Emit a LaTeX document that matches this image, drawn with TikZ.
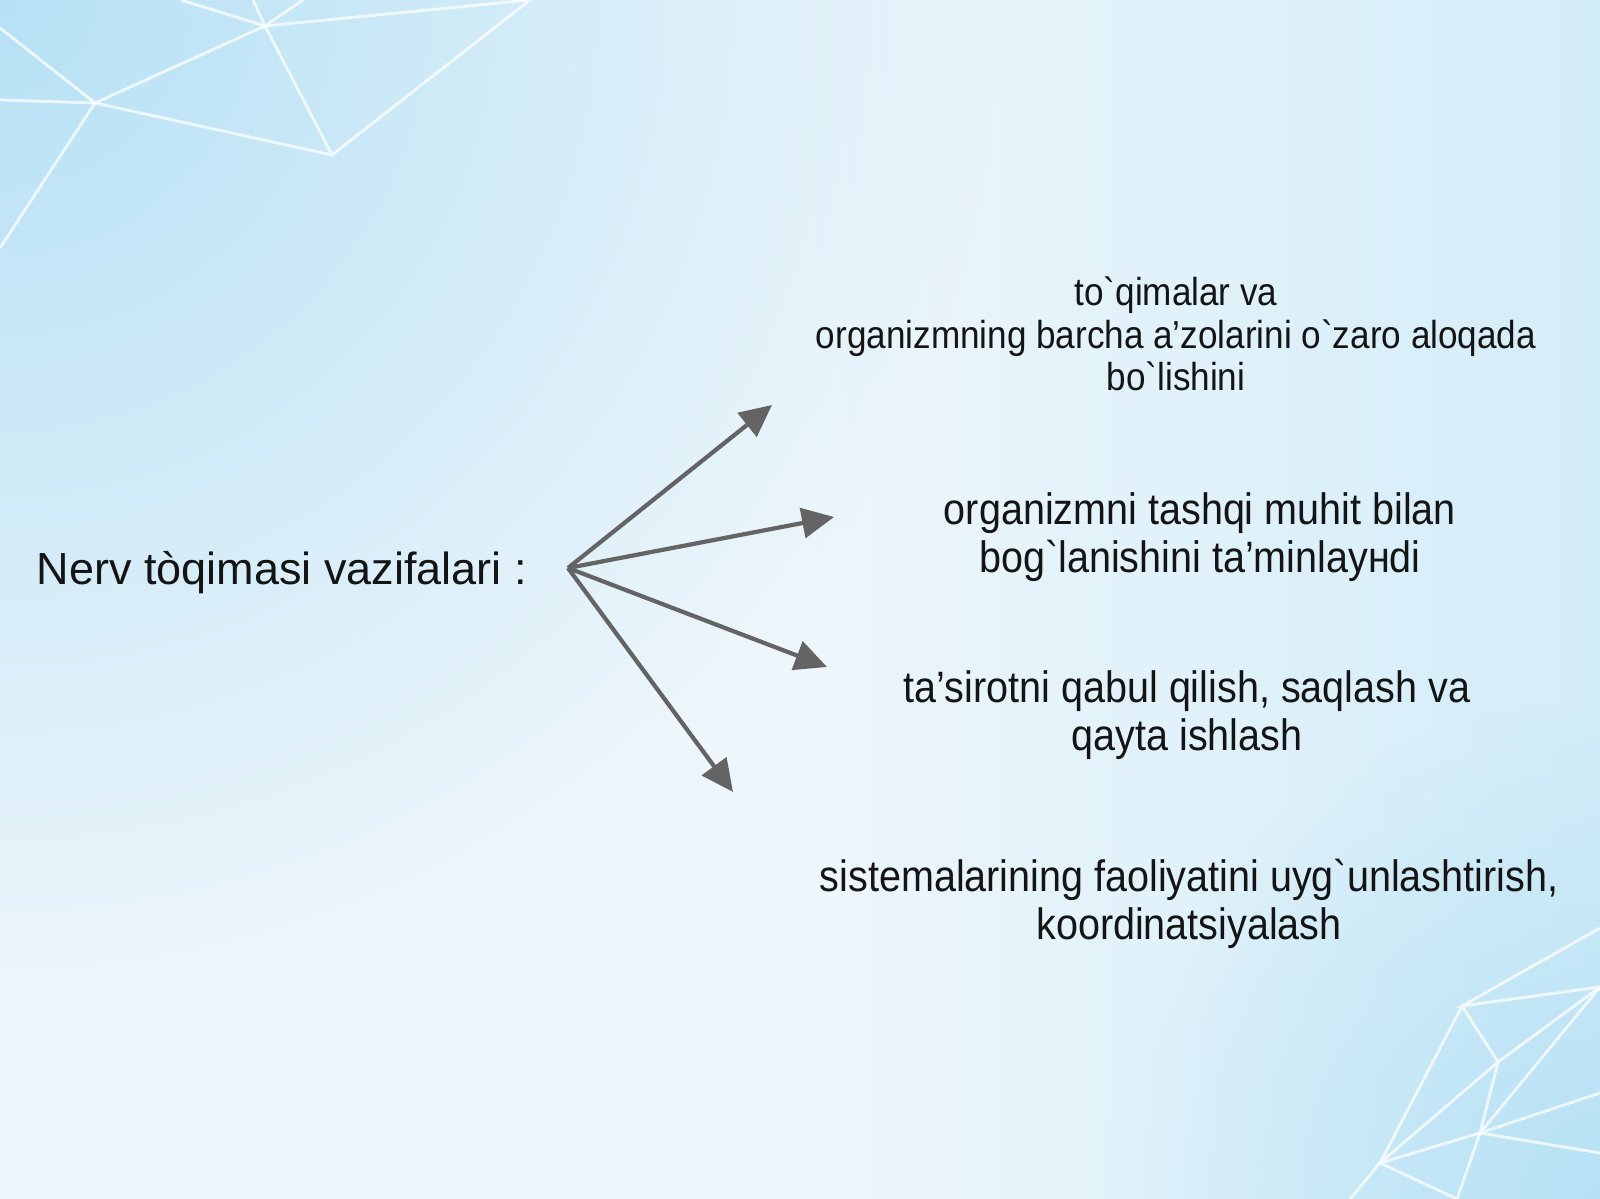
\documentclass[tikz,border=0pt]{standalone}
\usepackage{fontspec}
\usetikzlibrary{arrows.meta,fadings}
\newfontfamily\labelfont{Liberation Sans}[Ligatures=TeXOff]
\newfontfamily\itemfont{Liberation Sans}[Ligatures=TeXOff,FakeStretch=0.9]
\definecolor{bgwhite}{HTML}{EDF6FB}
\definecolor{bgright}{HTML}{D3EDF8}
\definecolor{bgcorner}{HTML}{B6E1F5}
\definecolor{arrowgray}{HTML}{646464}
\tikzfading[name=glowfade, inner color=transparent!0, outer color=transparent!100]

\begin{document}
\begin{tikzpicture}[
    item/.style={font=\itemfont\fontsize{12.5}{13.7}\selectfont, align=center, text=black!92, inner sep=0pt},
    pointer/.style={draw=arrowgray, line width=1.2pt, -{Triangle[length=0.32cm,width=0.3cm,fill=arrowgray]}},
    mesh/.style={white, line width=0.8pt, opacity=0.75}
  ]
  \useasboundingbox (0,0) rectangle (16,11.99);
  % background
  \begin{scope}
    \clip (0,0) rectangle (16,11.99);
    \fill[bgwhite] (0,0) rectangle (8,11.99);
    \shade[left color=bgwhite, right color=bgright] (8,0) rectangle (16,11.99);
    \fill[bgcorner, path fading=glowfade] (0,11.99) circle (10);
    \fill[bgcorner, path fading=glowfade] (16,0) circle (5);
    % mesh, top left
    \draw[mesh] (0,11.71) -- (0.95,10.96) -- (0,9.51);
    \draw[mesh] (0,10.99) -- (0.95,10.96) -- (2.65,11.73) -- (1.81,11.99);
    \draw[mesh] (0.95,10.96) -- (3.32,10.44) -- (2.65,11.73) -- (2.53,11.99);
    \draw[mesh] (3.03,11.99) -- (2.65,11.73) -- (5.30,11.99) -- (3.32,10.44);
    % mesh, bottom right
    \draw[mesh] (16,2.71) -- (14.62,1.93) -- (16,2.12) -- (14.98,1.37) -- (14.62,1.93) -- (13.80,0.36);
    \draw[mesh] (16,2.12) -- (14.80,0.66) -- (14.98,1.37) -- (13.80,0.36) -- (14.80,0.66);
    \draw[mesh] (16,1.06) -- (14.80,0.66) -- (16,0.46);
    \draw[mesh] (14.80,0.66) -- (14.57,0) -- (13.80,0.36) -- (13.50,0);
  \end{scope}

  \node[font=\labelfont\fontsize{12.8}{14}\selectfont, text=black!92, anchor=base west, inner sep=0pt] (title) at (0.36,6.14) {Nerv tòqimasi vazifalari :};

  \node[item, font=\itemfont\fontsize{11.1}{12}\selectfont] (link) at (11.76,8.65) {to`qimalar va\\organizmning barcha a’zolarini o`zaro aloqada\\bo`lishini};
  \node[item] (env) at (12.00,6.62) {organizmni tashqi muhit bilan\\bog`lanishini ta’minlayнdi};
  \node[item] (stim) at (11.87,4.84) {ta’sirotni qabul qilish, saqlash va\\qayta ishlash};
  \node[item] (coord) at (11.89,2.95) {sistemalarining faoliyatini uyg`unlashtirish,\\koordinatsiyalash};

  \coordinate (hub) at (5.68,6.31);
  \coordinate (tipA) at (7.72,7.94);
  \coordinate (tipB) at (8.34,6.82);
  \coordinate (tipC) at (8.27,5.32);
  \coordinate (tipD) at (7.33,4.07);
  \foreach \t in {tipA,tipB,tipC,tipD}
    \draw[pointer] (hub) -- (\t);
\end{tikzpicture}
\end{document}
